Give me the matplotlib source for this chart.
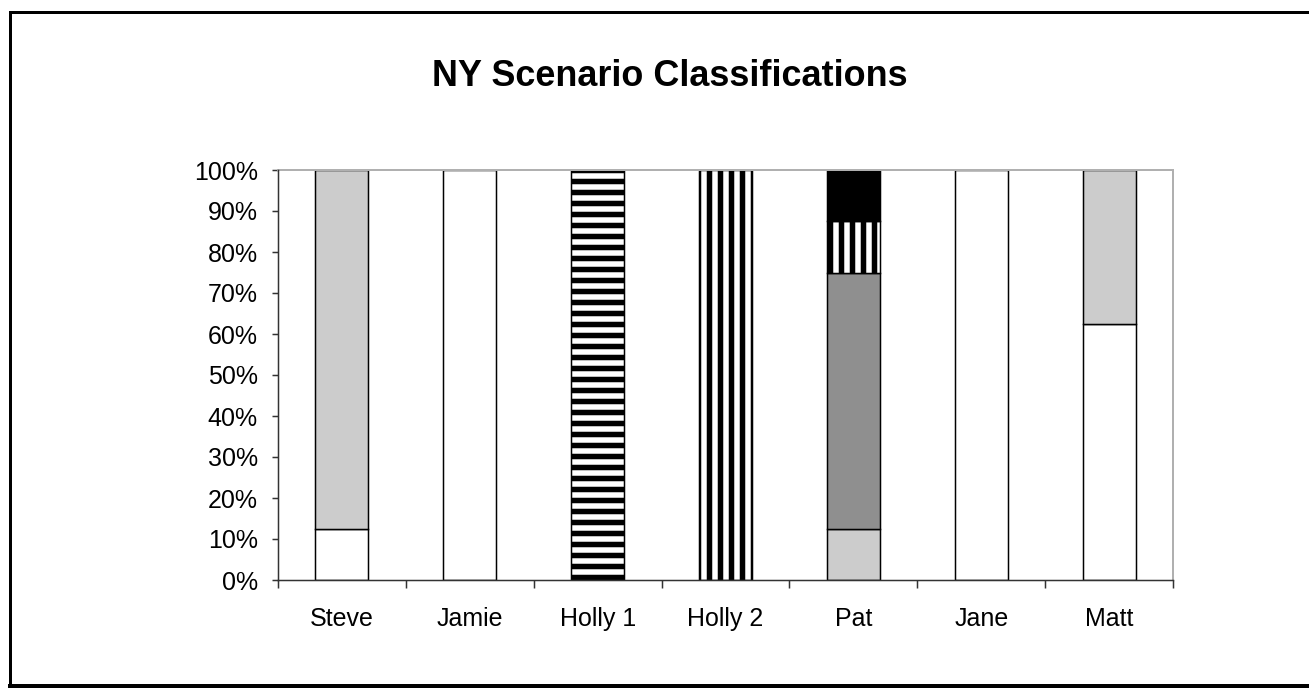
import numpy as np
import matplotlib
matplotlib.use("Agg")
import matplotlib.pyplot as plt
from matplotlib.lines import Line2D
from matplotlib.ticker import FuncFormatter

# dpi 66 gives hatch stripes about 11 px apart, like the reference
DPI = 66
PX = 72.0 / DPI   # points per pixel

categories = ['Steve', 'Jamie', 'Holly 1', 'Holly 2', 'Pat', 'Jane', 'Matt']

# percent of each bar, stacked bottom to top
white_part = [12.5, 100, 0, 0, 0, 100, 62.5]
light_gray_part = [87.5, 0, 0, 0, 12.5, 0, 37.5]
dark_gray_part = [0, 0, 0, 0, 62.5, 0, 0]
hstripe_part = [0, 0, 100, 0, 0, 0, 0]
vstripe_part = [0, 0, 0, 100, 12.5, 0, 0]
black_part = [0, 0, 0, 0, 12.5, 0, 0]

series = [
    (white_part, 'white', None),
    (light_gray_part, '#cccccc', None),
    (dark_gray_part, '#8f8f8f', None),
    (hstripe_part, 'white', '-'),
    (vstripe_part, 'white', '|'),
    (black_part, 'black', None),
]

plt.rcParams['font.family'] = ['Liberation Sans', 'DejaVu Sans']
plt.rcParams['hatch.linewidth'] = 5.5 * PX
plt.rcParams['hatch.color'] = 'black'

fig = plt.figure(figsize=(1309 / DPI, 690 / DPI), dpi=DPI)
ax = fig.add_axes([278 / 1309, 1 - 580 / 690, 895 / 1309, 410 / 690])

x = np.arange(len(categories))
bottom = np.zeros(len(categories))
for vals, color, hatch in series:
    vals = np.array(vals, dtype=float)
    for i in range(len(categories)):
        if vals[i] == 0:
            continue
        ax.bar(x[i], vals[i], bottom=bottom[i], width=0.415, color=color,
               edgecolor='black', linewidth=1.5 * PX, hatch=hatch, zorder=2)
    bottom += vals

ax.set_xlim(-0.5, len(categories) - 0.5)
ax.set_ylim(0, 100)

ax.set_yticks(np.arange(0, 101, 10))
ax.yaxis.set_major_formatter(FuncFormatter(lambda v, p: f'{int(v)}%'))
ax.set_xticks(np.arange(-0.5, len(categories), 1.0))
ax.set_xticklabels([])
ax.set_xticks(x, minor=True)
ax.set_xticklabels(categories, minor=True)

ax.tick_params(axis='y', direction='out', length=6 * PX, width=1.5 * PX,
               pad=14 * PX, labelsize=25 * PX, color='#333333')
ax.tick_params(axis='x', which='major', direction='out', length=8 * PX,
               width=1.5 * PX, color='#333333')
ax.tick_params(axis='x', which='minor', length=0, pad=27 * PX,
               labelsize=25 * PX)

for side in ['top', 'right']:
    ax.spines[side].set_color('#b0b0b0')
    ax.spines[side].set_linewidth(2 * PX)
for side in ['left', 'bottom']:
    ax.spines[side].set_color('#333333')
    ax.spines[side].set_linewidth(1.5 * PX)
    ax.spines[side].set_zorder(3)

fig.text(670 / 1309, 1 - 76 / 690, 'NY Scenario Classifications',
         ha='center', va='center', fontsize=36 * PX, fontweight='bold')

# outer frame: top, left and bottom edges only
frame_lines = [
    ([10 / 1309, 1.0], [1 - 12 / 690, 1 - 12 / 690], 3),
    ([10 / 1309, 10 / 1309], [1 - 12 / 690, 1 - 686 / 690], 3),
    ([10 / 1309, 1.0], [1 - 686 / 690, 1 - 686 / 690], 4),
]
for xs, ys, lw in frame_lines:
    fig.add_artist(Line2D(xs, ys, transform=fig.transFigure, color='black',
                          linewidth=lw * PX, solid_capstyle='projecting'))

fig.savefig('out.png', dpi=DPI, facecolor='white')
